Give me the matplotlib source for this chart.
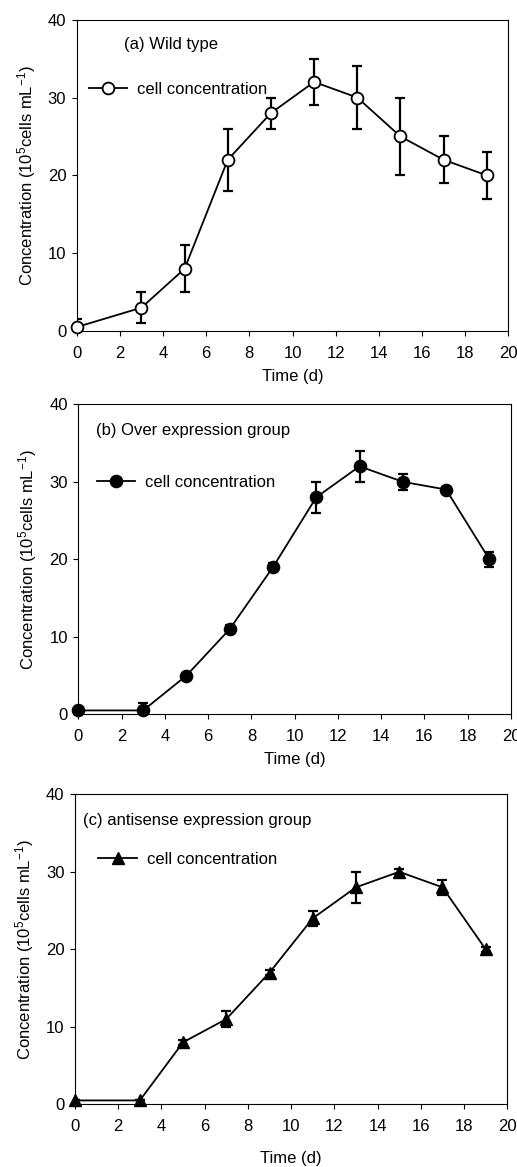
import matplotlib
matplotlib.use("Agg")
import matplotlib.pyplot as plt
from matplotlib.lines import Line2D

plt.rcParams['font.family'] = ['Liberation Sans', 'DejaVu Sans']
plt.rcParams['mathtext.fontset'] = 'custom'
plt.rcParams['mathtext.rm'] = 'Liberation Sans'
plt.rcParams['mathtext.it'] = 'Liberation Sans'
plt.rcParams['mathtext.default'] = 'regular'

time_d = [0, 3, 5, 7, 9, 11, 13, 15, 17, 19]

wild_type = [0.5, 3, 8, 22, 28, 32, 30, 25, 22, 20]
wild_type_err = [1, 2, 3, 4, 2, 3, 4, 5, 3, 3]

over_expr = [0.5, 0.5, 5, 11, 19, 28, 32, 30, 29, 20]
over_expr_err = [0, 1, 0.3, 0.5, 0.5, 2, 2, 1, 0.3, 1]

antisense = [0.5, 0.5, 8, 11, 17, 24, 28, 30, 28, 20]
antisense_err = [0, 0, 0.3, 1, 0.3, 1, 2, 0.3, 1, 0.3]

panel_titles = ["(a) Wild type", "(b) Over expression group", "(c) antisense expression group"]
legend_label = "cell concentration"
xticks = [0, 2, 4, 6, 8, 10, 12, 14, 16, 18, 20]
yticks = [0, 10, 20, 30, 40]

W, H = 517, 1167
fig = plt.figure(figsize=(W / 100, H / 100), dpi=100)

rects = [(76.7, 508.3, 19.7, 331.0), (78.3, 511.0, 404.3, 714.3), (75.0, 507.3, 794.3, 1104.3)]
series = [wild_type, over_expr, antisense]
errs = [wild_type_err, over_expr_err, antisense_err]
markers = [dict(marker='o', mfc='white', mec='black', ms=8.5, mew=1.3),
           dict(marker='o', mfc='black', mec='black', ms=8.8, mew=1),
           dict(marker='^', mfc='black', mec='black', ms=8.8, mew=1)]
title_pos = [(0.1096, 0.919), (0.041, 0.917), (0.0178, 0.915)]
leg_pos = [(0.0285, 0.777), (0.0425, 0.747), (0.054, 0.790)]
xlabel_y = [-0.1446, -0.147, -0.174]
FS = 12

for i in range(3):
    l, r, t, b = rects[i]
    ax = fig.add_axes([l / W, 1 - b / H, (r - l) / W, (b - t) / H])
    ax.errorbar(time_d, series[i], yerr=errs[i], fmt='none', ecolor='black',
                elinewidth=1.6, capsize=3.6, capthick=1.6, zorder=2)
    ax.plot(time_d, series[i], color='black', lw=1.3, clip_on=False, zorder=3,
            **markers[i])
    ax.set_xlim(0, 20)
    ax.set_ylim(0, 40)
    ax.set_xticks(xticks)
    ax.set_yticks(yticks)
    ax.tick_params(direction='out', length=3.5, width=0.8, labelsize=FS, pad=7)
    ax.tick_params(axis='y', pad=4)
    for s in ax.spines.values():
        s.set_linewidth(0.8)
    ax.set_xlabel("Time (d)", fontsize=FS)
    ax.xaxis.label.set_va('center')
    ax.xaxis.set_label_coords(0.5, xlabel_y[i])
    ax.set_ylabel("Concentration (10$^{5}$cells mL$^{-1}$)", fontsize=FS)
    ax.yaxis.label.set_va('center')
    ax.yaxis.set_label_coords(-0.117, 0.5)
    ax.text(title_pos[i][0], title_pos[i][1], panel_titles[i], transform=ax.transAxes,
            ha='left', va='center', fontsize=FS)
    handle = Line2D([], [], color='black', lw=1.3, **markers[i])
    ax.legend(handles=[handle], labels=[legend_label], loc='center left',
              bbox_to_anchor=leg_pos[i], frameon=False,
              borderpad=0, borderaxespad=0, handlelength=2.3, handletextpad=0.6,
              fontsize=FS)

fig.savefig("out.png", dpi=100)
